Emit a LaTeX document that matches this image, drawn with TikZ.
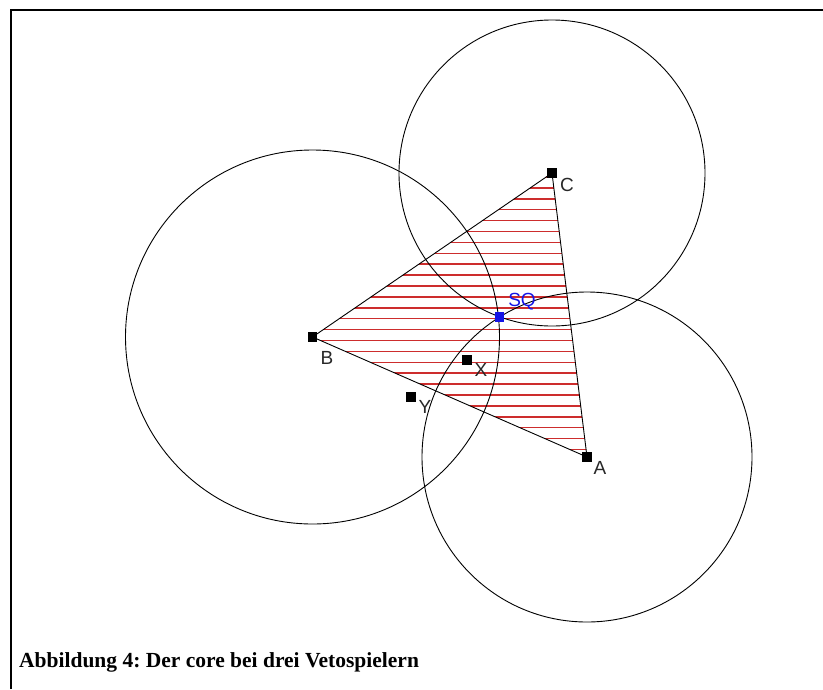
\documentclass[tikz,border=0pt]{standalone}
\usepackage{fontspec}
\setmainfont{Liberation Serif}
\newfontfamily\labfont{Liberation Sans}
\definecolor{hatchred}{RGB}{205,45,45}
\definecolor{labgray}{RGB}{40,40,40}
\definecolor{sqblue}{RGB}{20,20,230}
\frenchspacing
\begin{document}
\begin{tikzpicture}[x=1pt,y=-1pt,
  frame/.style={line width=2pt,black},
  geom/.style={line width=0.9pt,black},
  hatch/.style={line width=1.5pt,hatchred},
  ptmark/.style={draw=none,fill=black,minimum size=9.5pt,inner sep=0pt,outer sep=0pt},
  sqmark/.style={ptmark,fill=sqblue},
  lab/.style={font=\labfont\fontsize{19}{19}\selectfont,text=labgray,inner sep=0pt},
  sqlab/.style={lab,text=sqblue},
  caption/.style={font=\bfseries\fontsize{21.5}{24}\selectfont,anchor=base west,inner sep=0pt}]
\useasboundingbox (0,0) rectangle (823,689);
% frame
\draw[frame] (11,689) -- (11,10) -- (823,10);
% points
\coordinate (A) at (587,457);
\coordinate (B) at (312.5,337);
\coordinate (C) at (552,173);
\coordinate (S) at (499.5,317);
\coordinate (X) at (467,360);
\coordinate (Y) at (411,397);
% hatching of the triangle
\begin{scope}
  \clip (A) -- (B) -- (C) -- cycle;
  \foreach \i in {0,...,26} {
    \draw[hatch] (300,{177+10.9*\i}) -- (600,{177+10.9*\i});
  }
\end{scope}
% circles
\draw[geom] (B) circle[radius=187];
\draw[geom] (C) circle[radius=153];
\draw[geom] (A) circle[radius=165];
% markers
\node[ptmark] (mA) at (A) {};
\node[ptmark] (mB) at (B) {};
\node[ptmark] (mC) at (C) {};
\node[ptmark] (mX) at (X) {};
\node[ptmark] (mY) at (Y) {};
% triangle
\draw[geom] (mA.center) -- (mB.center) -- (mC.center) -- cycle;
\node[sqmark] (mS) at (S) {};
% labels
\node[lab] (lA) at (600,468) {A};
\node[lab] (lB) at (327,358) {B};
\node[lab] (lC) at (567,185) {C};
\node[lab] (lX) at (481,370) {X};
\node[lab] (lY) at (425,407) {Y};
\node[sqlab] (lS) at (522,302) {SQ};
% caption
\node[caption] (cap) at (19,667) {Abbildung 4: Der core bei drei Vetospielern};
\end{tikzpicture}
\end{document}
